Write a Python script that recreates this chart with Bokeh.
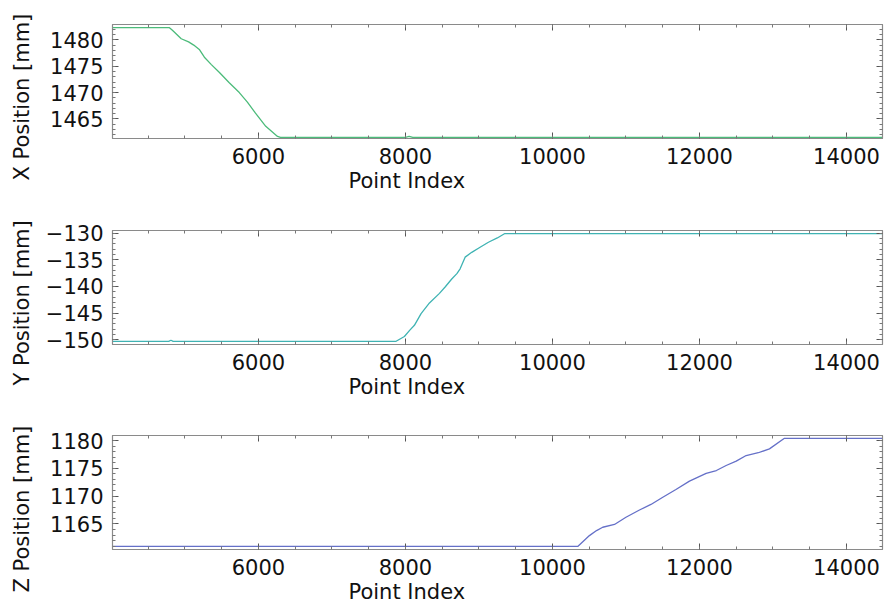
import math
from bokeh.plotting import figure
from bokeh.layouts import column, row
from bokeh.models import Range1d, LinearAxis, Title, SingleIntervalTicker
from bokeh.core.properties import value
from bokeh.embed import file_html
from bokeh.resources import INLINE

# ---- data ----
x_idx = [4015, 4790, 4830, 4950, 5050, 5120, 5200, 5265, 5360, 5470, 5600, 5740, 5850, 5960, 6100, 6260, 6300, 8000, 8050, 8100, 14490]
x_pos = [1482.3, 1482.3, 1481.8, 1480.2, 1479.6, 1479.0, 1478.1, 1476.7, 1475.3, 1473.8, 1471.9, 1470.0, 1468.2, 1466.1, 1463.6, 1461.7, 1461.5, 1461.5, 1461.7, 1461.5, 1461.5]

y_idx = [4015, 4780, 4810, 4840, 7873, 7986, 8060, 8122, 8213, 8327, 8463, 8540, 8630, 8700, 8744, 8812, 8902, 9010, 9129, 9250, 9347, 14490]
y_pos = [-150.3, -150.3, -150.1, -150.3, -150.3, -149.4, -148.2, -147.3, -145.1, -143.1, -141.3, -140.1, -138.6, -137.6, -136.7, -134.5, -133.6, -132.7, -131.7, -130.9, -130.1, -130.1]

z_idx = [4015, 10344, 10420, 10503, 10600, 10684, 10844, 11000, 11184, 11340, 11501, 11680, 11864, 12091, 12230, 12363, 12500, 12635, 12800, 12952, 13156, 14490]
z_pos = [1160.95, 1160.95, 1161.9, 1162.9, 1163.8, 1164.4, 1164.9, 1166.2, 1167.5, 1168.5, 1169.8, 1171.2, 1172.7, 1174.1, 1174.6, 1175.5, 1176.3, 1177.3, 1177.8, 1178.5, 1180.4, 1180.4]

x_range_lim = (4015, 14490)
y_labels = ["X Position [mm]", "Y Position [mm]", "Z Position [mm]"]
y_lims = [(1461.3, 1482.9), (-150.9, -129.5), (1160.4, 1180.9)]
colors = ["#4cbb7a", "#3fb3b3", "#6570c8"]
x_label = "Point Index"
series = [(x_idx, x_pos), (y_idx, y_pos), (z_idx, z_pos)]

FONT = "DejaVu Sans"
tops = [24, 26, 26]
bottoms = [66, 65, 55]
LABEL_W = 40
TOTAL_H = 604

# --- narrow strip holding the rotated y-axis titles (pixel coordinates) ---
strip = figure(width=LABEL_W, height=TOTAL_H, x_range=Range1d(0, LABEL_W),
               y_range=Range1d(TOTAL_H, 0), min_border=0,
               output_backend="svg", toolbar_location=None,
               x_axis_location=None, y_axis_location=None)
strip.grid.visible = False
strip.outline_line_color = None
strip.background_fill_color = "white"
strip.border_fill_color = "white"
strip.text(x=[21, 21, 21], y=[180, 385, 592], text=y_labels,
           angle=math.pi / 2, text_align="left", text_baseline="middle",
           text_font=value(FONT), text_font_size="21px", text_color="#111111")


def style(ax, show_labels):
    ax.axis_line_color = "#8a8a8a"
    ax.major_tick_in = 6
    ax.major_tick_out = 0
    ax.minor_tick_in = 3
    ax.minor_tick_out = 0
    ax.major_tick_line_color = "#555555"
    ax.minor_tick_line_color = "#777777"
    if show_labels:
        ax.major_label_text_font = FONT
        ax.major_label_text_font_size = "21px"
        ax.major_label_text_color = "#111111"
        ax.major_label_standoff = 9
    else:
        ax.major_label_text_font_size = "0px"
        ax.major_label_text_alpha = 0
        ax.major_label_standoff = 0


figs = []
for i in range(3):
    idx, val = series[i]
    p = figure(frame_width=770, frame_height=114,
               min_border_left=112 - LABEL_W, min_border_right=9,
               min_border_top=tops[i], min_border_bottom=bottoms[i],
               x_range=Range1d(*x_range_lim), y_range=Range1d(*y_lims[i]),
               output_backend="svg", toolbar_location=None,
               x_axis_location=None, y_axis_location=None)
    p.grid.visible = False
    p.outline_line_color = "#8a8a8a"
    p.outline_line_width = 1.2
    p.background_fill_color = "white"
    p.border_fill_color = "white"

    xt = SingleIntervalTicker(interval=2000, num_minor_ticks=4)
    yt = SingleIntervalTicker(interval=5, num_minor_ticks=5)
    bx = LinearAxis(ticker=xt); style(bx, True)
    lx = LinearAxis(ticker=yt); style(lx, True)
    ax_top = LinearAxis(ticker=xt); style(ax_top, False)
    ax_right = LinearAxis(ticker=yt); style(ax_right, False)
    p.add_layout(bx, "below")
    p.add_layout(lx, "left")
    p.add_layout(ax_top, "above")
    p.add_layout(ax_right, "right")

    p.add_layout(Title(text=x_label, align="left", offset=236, text_font=FONT,
                       text_font_size="21px", text_font_style="normal",
                       text_color="#111111", standoff=0), "below")

    p.line(idx, val, line_color=colors[i], line_width=1.3)
    figs.append(p)

layout = row(strip, column(*figs, spacing=0), spacing=0)
open("out.html", "w").write(file_html(layout, INLINE))
